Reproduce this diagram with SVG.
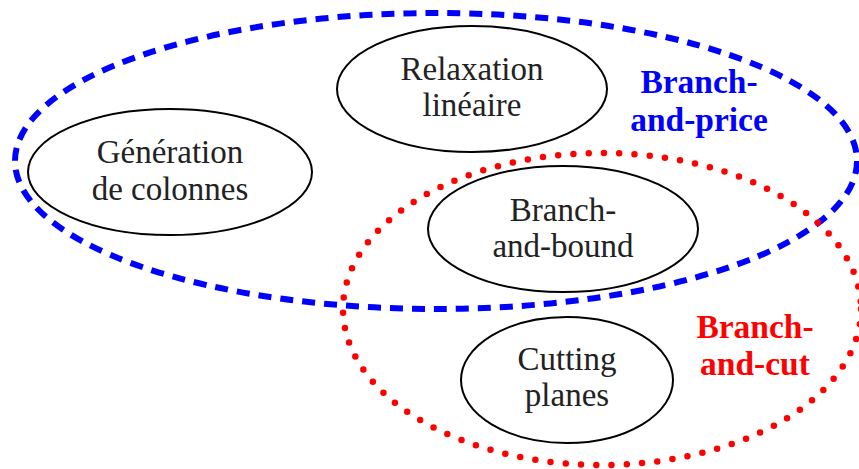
<svg xmlns="http://www.w3.org/2000/svg" width="859" height="469" viewBox="0 0 859 469">
<style>
.node{fill:none;stroke:#000;stroke-width:2}
.t{font-family:"Liberation Serif","Times New Roman",serif;font-size:33px;fill:#222;text-anchor:middle}
.lb{font-family:"Liberation Serif","Times New Roman",serif;font-size:33.5px;font-weight:bold;text-anchor:middle}
</style>
<rect width="859" height="469" fill="#fff"/>
<g id="connectors"></g>
<g id="branch-and-price">
<ellipse cx="436" cy="161" rx="421" ry="148" fill="none" stroke="#0000ff" stroke-width="6" stroke-dasharray="13 9"/>
<text class="lb" fill="#0000ff" x="699" y="93">Branch-</text>
<text class="lb" fill="#0000ff" x="699" y="131">and-price</text>
</g>
<g id="branch-and-cut">
<ellipse cx="602" cy="309" rx="259" ry="156" fill="none" stroke="#ff0000" stroke-width="6.5" stroke-linecap="round" stroke-dasharray="0 15.3"/>
<text class="lb" fill="#ff0000" x="755" y="338">Branch-</text>
<text class="lb" fill="#ff0000" x="755" y="375">and-cut</text>
</g>
<g id="relaxation">
<ellipse class="node" cx="472" cy="89" rx="135" ry="63"/>
<text class="t" x="472" y="80">Relaxation</text>
<text class="t" x="472" y="116">linéaire</text>
</g>
<g id="generation">
<ellipse class="node" cx="170" cy="172" rx="142" ry="63"/>
<text class="t" x="170" y="163">Génération</text>
<text class="t" x="170" y="200">de colonnes</text>
</g>
<g id="branch-and-bound">
<ellipse class="node" cx="563" cy="229" rx="135" ry="63"/>
<text class="t" x="563" y="221">Branch-</text>
<text class="t" x="563" y="257">and-bound</text>
</g>
<g id="cutting-planes">
<ellipse class="node" cx="567" cy="380" rx="106" ry="63"/>
<text class="t" x="567" y="370">Cutting</text>
<text class="t" x="567" y="406">planes</text>
</g>
</svg>
